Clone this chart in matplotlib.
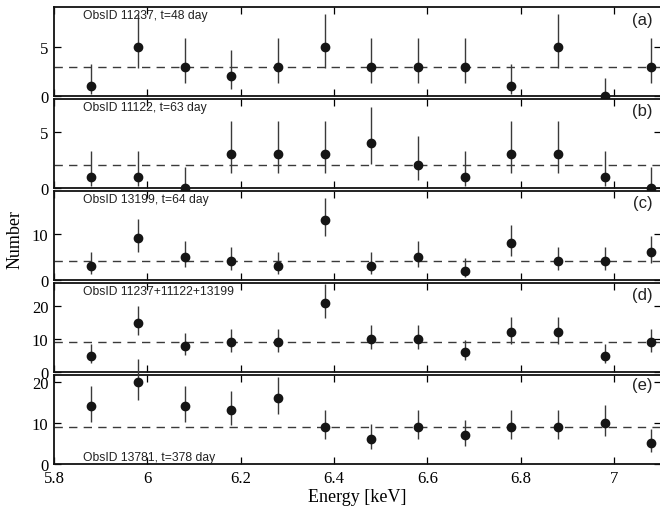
import matplotlib.pyplot as plt

# Energía central de cada bin (keV)
energy = [5.88, 5.98, 6.08, 6.18, 6.28, 6.38, 6.48, 6.58, 6.68, 6.78, 6.88, 6.98, 7.08]

# Cuentas por bin en cada panel
counts_a = [1, 5, 3, 2, 3, 5, 3, 3, 3, 1, 5, 0, 3]
counts_b = [1, 1, 0, 3, 3, 3, 4, 2, 1, 3, 3, 1, 0]
counts_c = [3, 9, 5, 4, 3, 13, 3, 5, 2, 8, 4, 4, 6]
counts_d = [5, 15, 8, 9, 9, 21, 10, 10, 6, 12, 12, 5, 9]
counts_e = [14, 20, 14, 13, 16, 9, 6, 9, 7, 9, 9, 10, 5]

# Nivel medio (línea discontinua)
means = [3, 2, 4, 9, 9]

# Longitud de las barras de error (abajo, arriba) leída para cada número de cuentas
err_low = {0: 0.0, 1: 0.83, 2: 1.29, 3: 1.63, 4: 1.91, 5: 2.15, 6: 2.38, 7: 2.58,
           8: 2.76, 9: 2.94, 10: 3.10, 12: 3.41, 13: 3.56, 14: 3.69, 15: 3.83,
           16: 3.95, 20: 4.43, 21: 4.54}
err_high = {0: 1.87, 1: 2.32, 2: 2.66, 3: 2.94, 4: 3.18, 5: 3.40, 6: 3.60, 7: 3.78,
            8: 3.96, 9: 4.12, 10: 4.28, 12: 4.57, 13: 4.71, 14: 4.84, 15: 4.97,
            16: 5.09, 20: 5.56, 21: 5.66}

obs_labels = ['ObsID 11237, t=48 day', 'ObsID 11122, t=63 day', 'ObsID 13199, t=64 day',
              'ObsID 11237+11122+13199', 'ObsID 13781, t=378 day']
panel_labels = ['(a)', '(b)', '(c)', '(d)', '(e)']
y_tops = [9.1, 7.9, 19.2, 27, 21.6]
y_ticks = [[0, 5], [0, 5], [0, 10], [0, 10, 20], [0, 10, 20]]

all_counts = [counts_a, counts_b, counts_c, counts_d, counts_e]

plt.rcParams['font.family'] = ['Liberation Serif', 'DejaVu Serif']
sans = ['Liberation Sans', 'DejaVu Sans']

W, H = 660, 510
fig = plt.figure(figsize=(W / 100, H / 100), dpi=100)

left_px = 54
right_px = 660.7
panel_h = 89
tops_px = [8, 100, 192, 284, 376]
label_off = [0.055, 0.05, 0.045, 0.05, 0.02]

for i, counts in enumerate(all_counts):
    ax = fig.add_axes([left_px / W, 1 - (tops_px[i] + panel_h) / H,
                       (right_px - left_px) / W, panel_h / H])
    lo = [err_low[c] for c in counts]
    hi = [err_high[c] for c in counts]
    ax.axhline(means[i], color='#3a3a3a', lw=1.0, dashes=(6, 4.5), zorder=1)
    ax.errorbar(energy, counts, yerr=[lo, hi], fmt='o', color='#151515',
                ecolor='#3a3a3a', elinewidth=1.0, capsize=0, markersize=6,
                zorder=3, clip_on=False)
    ax.set_xlim(5.8, 7.1)
    ax.set_ylim(0, y_tops[i])
    ax.set_yticks(y_ticks[i])
    ax.set_xticks([5.8, 6.0, 6.2, 6.4, 6.6, 6.8, 7.0])
    ax.tick_params(direction='in', length=5, width=0.9, top=True, right=True,
                   labelsize=12, pad=4)
    for s in ax.spines.values():
        s.set_linewidth(1.3)
        s.set_color('#111111')
    if i < 4:
        ax.tick_params(labelbottom=False)
        ax.text(5.862, y_tops[i] * 0.975, obs_labels[i], family=sans, fontsize=8.7,
                va='top', ha='left', color='#222222')
    else:
        ax.set_xticklabels(['5.8', '6', '6.2', '6.4', '6.6', '6.8', '7'])
        ax.text(5.862, 0.3, obs_labels[i], family=sans, fontsize=8.7,
                va='bottom', ha='left', color='#222222')
        ax.set_xlabel('Energy [keV]', fontsize=13, labelpad=2)
    ax.text(0.986, 1 - label_off[i], panel_labels[i], transform=ax.transAxes,
            family=sans, fontsize=12, va='top', ha='right', color='#222222')

fig.text(15 / W, 1 - 240 / H, 'Number', rotation=90, fontsize=13,
         va='center', ha='center')

fig.savefig('out.png', dpi=100)
